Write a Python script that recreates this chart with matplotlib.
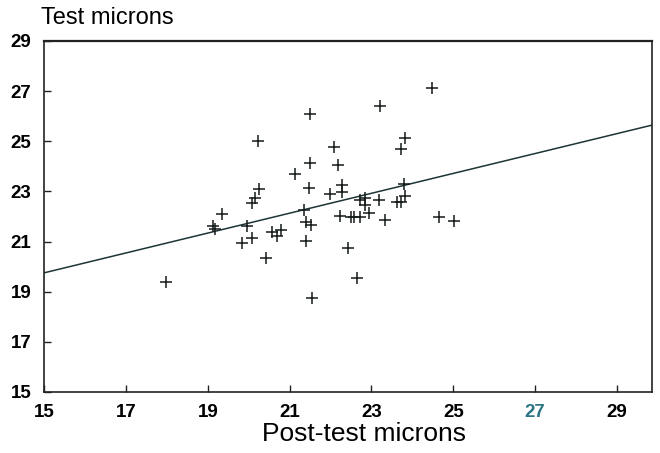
import numpy as np
import matplotlib.pyplot as plt

plt.rcParams['font.family'] = ['Liberation Sans', 'DejaVu Sans']

# post-test vs test measurements (microns)
post_test = [17.98, 19.13, 19.17, 19.35, 19.84, 19.97, 20.09, 20.09, 20.16, 20.25,
             20.22, 20.43, 20.58, 20.68, 20.80, 21.14, 21.35, 21.40, 21.53, 21.39,
             21.47, 21.51, 21.49, 21.55, 21.98, 22.28, 22.28, 22.08, 22.17, 22.22,
             22.42, 22.50, 22.57, 22.71, 22.64, 22.71, 22.85, 22.85, 22.95, 23.18,
             23.21, 23.34, 23.62, 23.72, 23.83, 23.80, 23.72, 23.83, 24.64, 25.02,
             24.47]
test = [19.39, 21.61, 21.48, 22.08, 20.94, 21.61, 21.16, 22.55, 22.73, 23.11,
        25.00, 20.33, 21.39, 21.22, 21.45, 23.71, 22.25, 21.79, 21.65, 21.03,
        23.13, 24.14, 26.08, 18.73, 22.89, 23.25, 22.98, 24.75, 24.04, 22.02,
        20.74, 21.98, 21.98, 21.98, 19.55, 22.65, 22.72, 22.45, 22.14, 22.65,
        26.41, 21.85, 22.58, 22.58, 22.81, 23.31, 24.67, 25.11, 21.98, 21.81,
        27.12]

# regression line end points
fit_x = [15, 30]
fit_y = [19.75, 25.7]

ticks = [15, 17, 19, 21, 23, 25, 27, 29]

fig = plt.figure(figsize=(6.6, 4.53), dpi=100)
ax = fig.add_axes([0.0667, 0.1347, 0.921, 0.775])

ax.plot(fit_x, fit_y, '-', color='#1d3535', lw=1.1)
ax.plot(post_test, test, '+', color='#151a1a', ms=9, mew=1.1)

ax.set_xlim(15, 29.85)
ax.set_ylim(15, 29)
ax.set_xticks(ticks)
ax.set_yticks(ticks)
ax.tick_params(direction='in', length=5, width=1, color='#222222',
               labelsize=13.5, pad=9)
for lab in ax.get_xticklabels() + ax.get_yticklabels():
    lab.set_fontweight('bold')
ax.get_xticklabels()[6].set_color('#2b7585')

for s in ax.spines.values():
    s.set_linewidth(1.2)
    s.set_color('#222222')
ax.spines['top'].set_linewidth(1.6)

ax.set_xlabel('Post-test microns', fontsize=19, labelpad=6)
ax.xaxis.set_label_coords(0.527, -0.085)
fig.text(0.062, 0.935, 'Test microns', fontsize=17, ha='left', va='bottom')

fig.savefig('out.png', dpi=100)
